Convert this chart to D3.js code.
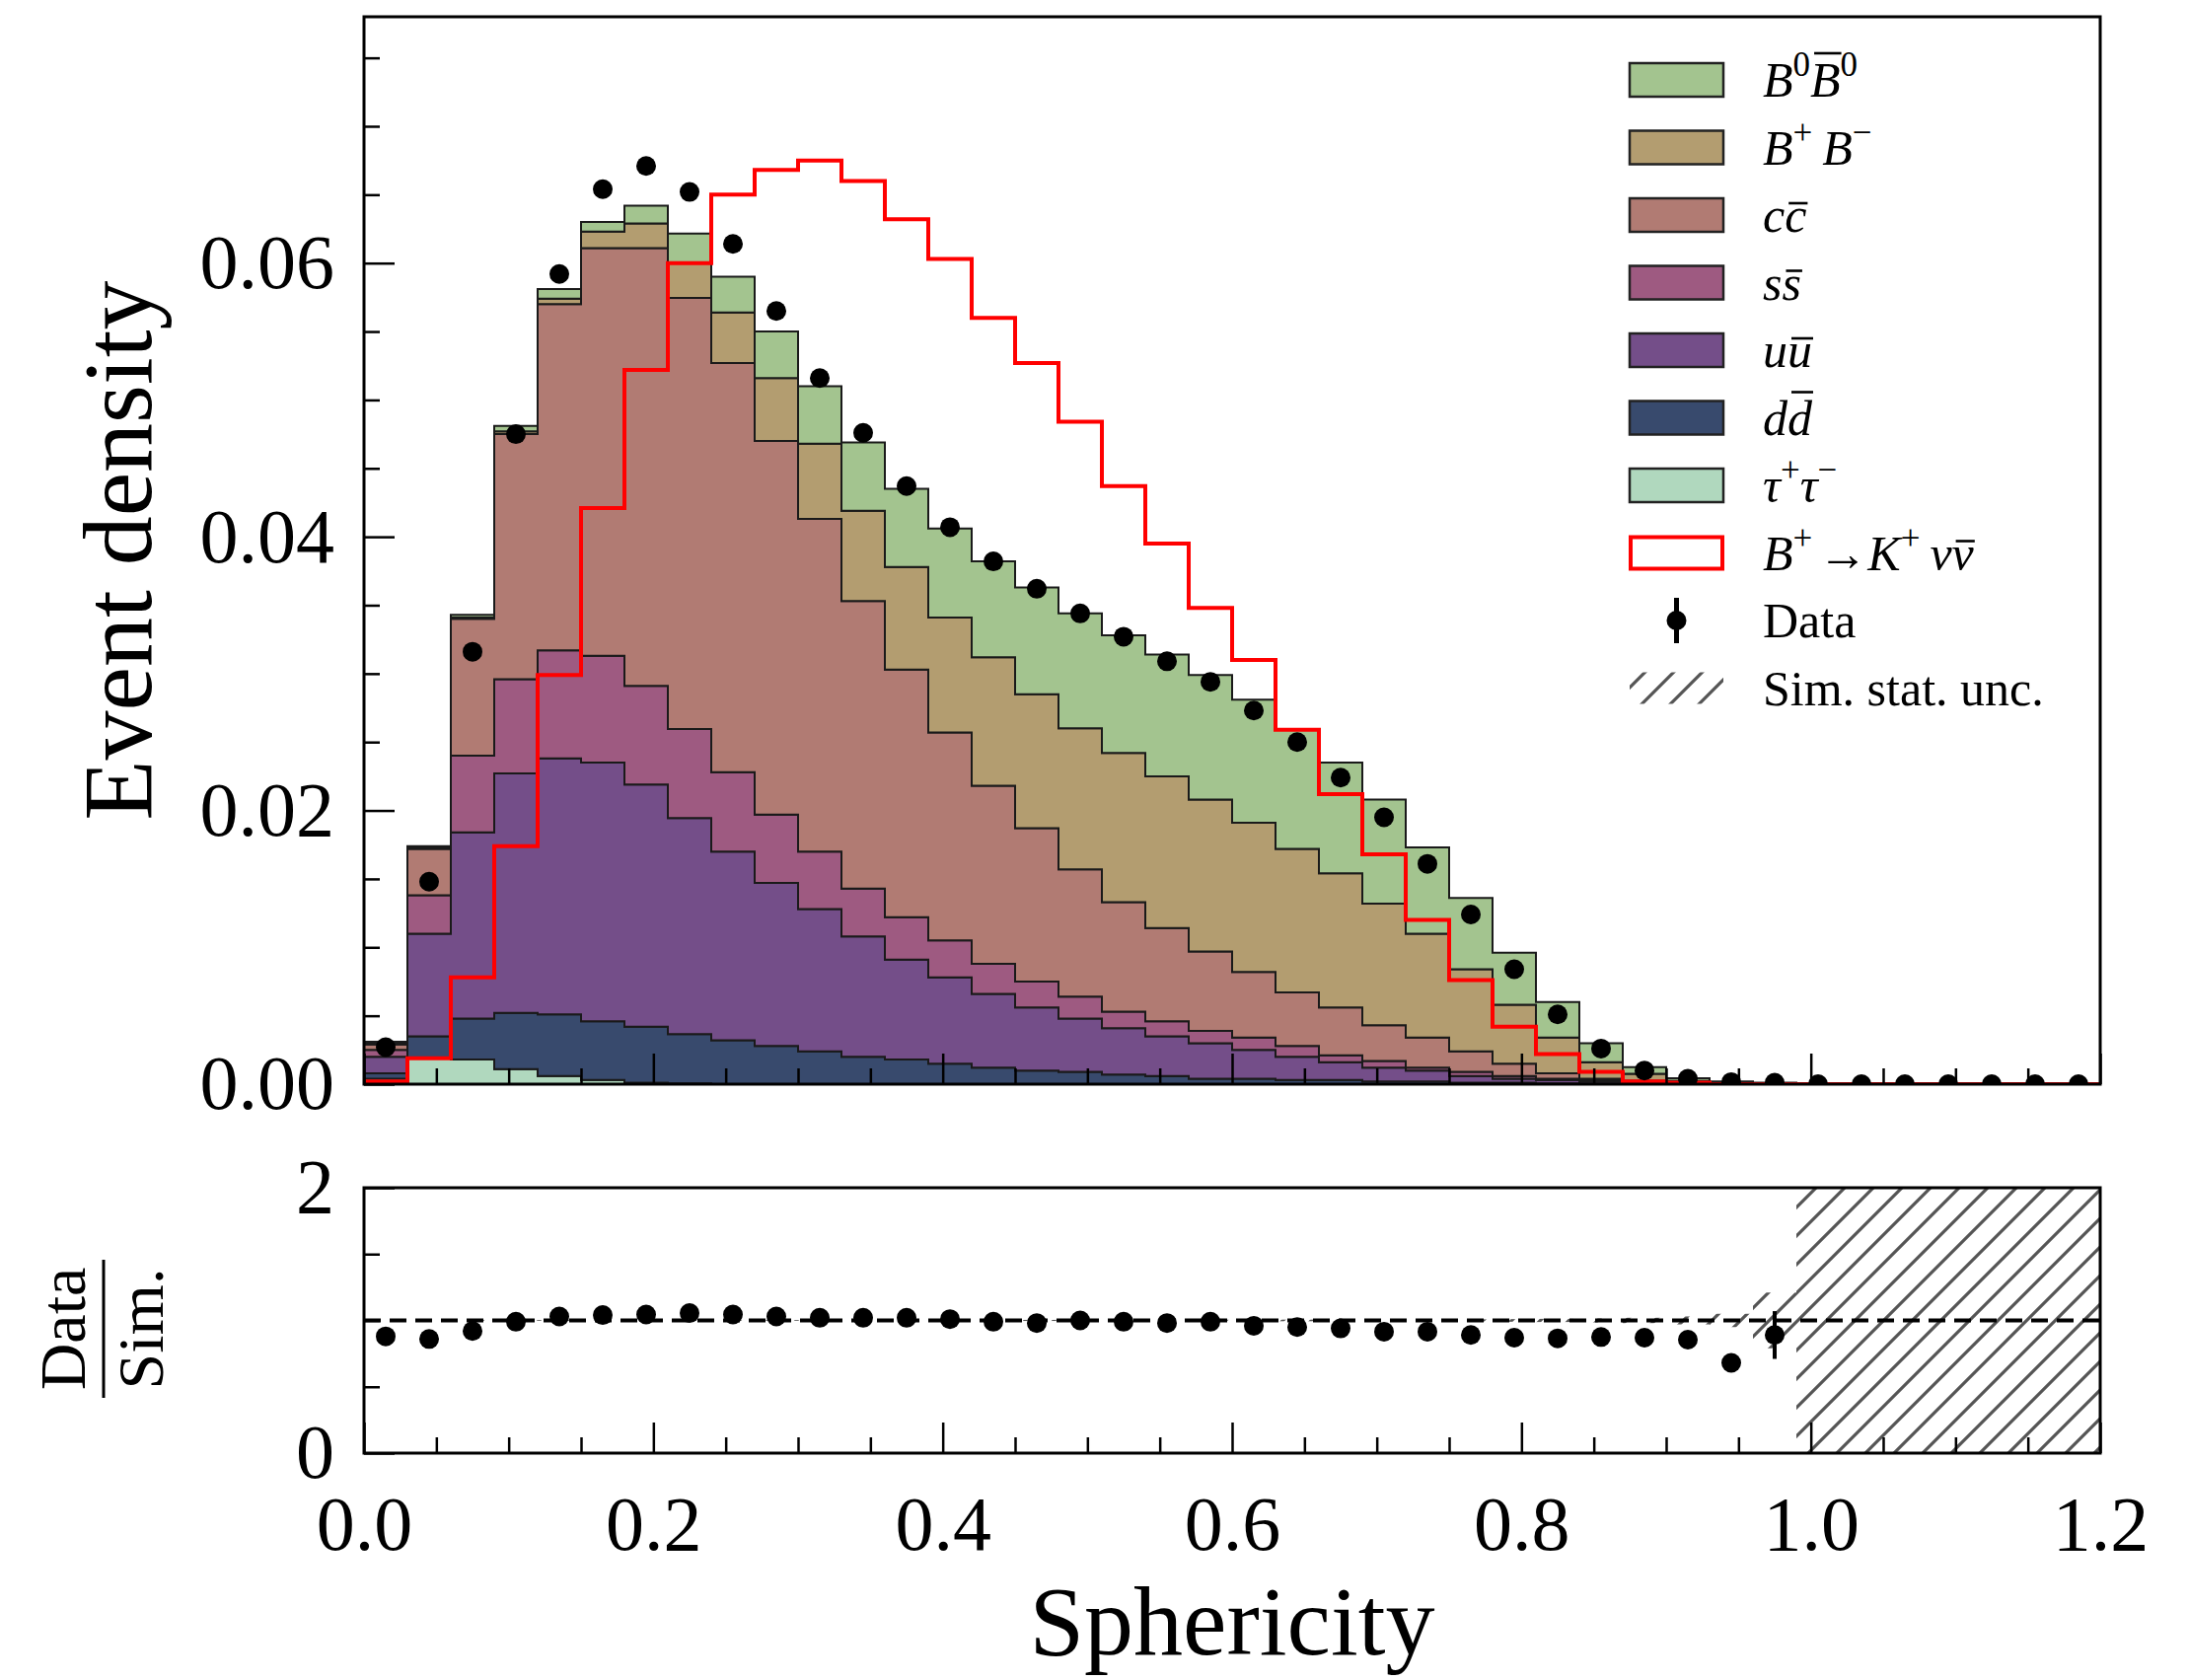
<!DOCTYPE html>
<html>
<head>
<meta charset="utf-8">
<script src="https://cdn.jsdelivr.net/npm/d3@7"></script>
<style>
  body { margin: 0; background: #fff; }
  svg text { font-family: "Liberation Serif", "Times New Roman", serif; fill: #000; }
</style>
</head>
<body>
<div id="wrapper"></div>
<script>
// Binning: 40 bins of width 0.03 from 0 to 1.2
const binWidth = 0.03
const nBins = 40

// Stacked background components (per-bin event density)
const tauTau = [0.0004, 0.0019, 0.0018, 0.0011, 0.0006, 0.0003, 0.0001, 0.00005, 0, 0,
  0, 0, 0, 0, 0, 0, 0, 0, 0, 0,
  0, 0, 0, 0, 0, 0, 0, 0, 0, 0,
  0, 0, 0, 0, 0, 0, 0, 0, 0, 0]
const dDbar = [0.0004, 0.0016, 0.0030, 0.0041, 0.0045, 0.0043, 0.0041, 0.0036, 0.0032, 0.0028,
  0.0024, 0.0020, 0.0018, 0.0015, 0.0012, 0.0010, 0.0009, 0.0007, 0.0006, 0.0004,
  0.0004, 0.0003, 0.0003, 0.0002, 0.0002, 0.0001, 0.0001, 0.00005, 0.00003, 0,
  0, 0, 0, 0, 0, 0, 0, 0, 0, 0]
const uUbar = [0.0012, 0.0075, 0.0136, 0.0175, 0.0187, 0.0189, 0.0177, 0.0158, 0.0138, 0.0119,
  0.0104, 0.0088, 0.0073, 0.0063, 0.0054, 0.0046, 0.0039, 0.0034, 0.0029, 0.0026,
  0.0021, 0.0017, 0.0013, 0.0010, 0.0008, 0.0005, 0.0003, 0.00025, 0.00017, 0.0001,
  0.00005, 0, 0, 0, 0, 0, 0, 0, 0, 0]
const sSbar = [0.0005, 0.0028, 0.0056, 0.0069, 0.0079, 0.0078, 0.0072, 0.0065, 0.0058, 0.0050,
  0.0042, 0.0035, 0.0031, 0.0027, 0.0022, 0.0019, 0.0016, 0.0012, 0.0011, 0.0009,
  0.0009, 0.0008, 0.0005, 0.0005, 0.0002, 0.0003, 0.0002, 0.0001, 0.0001, 0.0001,
  0.00005, 0, 0, 0, 0, 0, 0, 0, 0, 0]
const cCbar = [0.0004, 0.0034, 0.0100, 0.0179, 0.0253, 0.0298, 0.0320, 0.0315, 0.0299, 0.0273,
  0.0243, 0.0210, 0.0181, 0.0152, 0.0130, 0.0112, 0.0093, 0.0080, 0.0068, 0.0058,
  0.0048, 0.0039, 0.0035, 0.0026, 0.0022, 0.0015, 0.0009, 0.0004, 0.0001, 0.00005,
  0.00003, 0, 0, 0, 0, 0, 0, 0, 0, 0]
const bPlusBMinus = [0.0001, 0.0001, 0.0001, 0.0002, 0.0004, 0.0012, 0.0018, 0.0026, 0.0037, 0.0046,
  0.0055, 0.0066, 0.0075, 0.0084, 0.0094, 0.0098, 0.0103, 0.0109, 0.0111, 0.0111,
  0.0109, 0.0105, 0.0098, 0.0089, 0.0076, 0.0060, 0.0043, 0.0026, 0.0012, 0.0005,
  0.0001, 0.0001, 0.00005, 0, 0, 0, 0, 0, 0, 0]
const b0B0bar = [0.0001, 0.0001, 0.0002, 0.0004, 0.0007, 0.0007, 0.0013, 0.0021, 0.0026, 0.0034,
  0.0042, 0.0050, 0.0057, 0.0065, 0.0070, 0.0078, 0.0084, 0.0086, 0.0089, 0.0091,
  0.0090, 0.0087, 0.0081, 0.0076, 0.0063, 0.0052, 0.0038, 0.0026, 0.0014, 0.0005,
  0.0002, 0.0001, 0.00005, 0, 0, 0, 0, 0, 0, 0]

// Signal B+ -> K+ nu nubar (drawn as an outline)
const signal = [0.0002, 0.0019, 0.0078, 0.0174, 0.0299, 0.0421, 0.0522, 0.0600, 0.0650, 0.0668,
  0.0675, 0.0660, 0.0632, 0.0603, 0.0560, 0.0527, 0.0484, 0.0437, 0.0395, 0.0348,
  0.0310, 0.0259, 0.0212, 0.0168, 0.0120, 0.0076, 0.0042, 0.0022, 0.0009, 0.0002,
  0.0001, 0, 0, 0, 0, 0, 0, 0, 0, 0]

// Data points
const dataDensity = [0.0027, 0.0148, 0.0316, 0.0475, 0.0592, 0.0654, 0.0671, 0.0652, 0.0614, 0.0565,
  0.0516, 0.0476, 0.0437, 0.0407, 0.0382, 0.0362, 0.0344, 0.0327, 0.0309, 0.0294,
  0.0273, 0.0250, 0.0224, 0.0195, 0.0161, 0.0124, 0.0084, 0.0051, 0.0026, 0.0010,
  0.0004, 0.00015, 0.0001, 0, 0, 0, 0, 0, 0, 0]

// Ratio panel (bins with simulation only)
const ratio = [0.88, 0.86, 0.92, 0.99, 1.03, 1.04, 1.045, 1.055, 1.045, 1.03,
  1.02, 1.02, 1.02, 1.01, 0.99, 0.98, 1.0, 0.99, 0.98, 0.99,
  0.96, 0.95, 0.94, 0.915, 0.915, 0.89, 0.87, 0.865, 0.875, 0.87,
  0.855, 0.68, 0.89]
const ratioErr = [0.01, 0.01, 0.01, 0.01, 0.01, 0.01, 0.01, 0.01, 0.01, 0.01,
  0.01, 0.01, 0.01, 0.01, 0.01, 0.01, 0.01, 0.01, 0.01, 0.01,
  0.01, 0.01, 0.01, 0.01, 0.01, 0.01, 0.01, 0.015, 0.015, 0.02,
  0.03, 0.06, 0.18]
// relative simulation stat. uncertainty; null = no simulated events
const simRelUnc = [0.01, 0.005, 0.004, 0.003, 0.003, 0.003, 0.003, 0.003, 0.003, 0.003,
  0.003, 0.003, 0.004, 0.004, 0.004, 0.004, 0.004, 0.005, 0.005, 0.005,
  0.005, 0.006, 0.006, 0.007, 0.007, 0.008, 0.01, 0.012, 0.015, 0.02,
  0.03, 0.05, 0.21, null, null, null, null, null, null, null]

const componentKeys = ["tautau", "ddbar", "uubar", "ssbar", "ccbar", "bpbm", "b0b0"]
const componentSeries = [tauTau, dDbar, uUbar, sSbar, cCbar, bPlusBMinus, b0B0bar]
const componentColors = ["#b0d8be", "#384a6d", "#744e89", "#9e5a81", "#b17b73", "#b39d70", "#a3c48f"]

// Legend labels, top to bottom: [text, style]  (\u2009 = thin space)
const legendLabels = [
  [["B", "i"], ["0", "sup"], ["B", "ibar"], ["0", "sup"]],
  [["B", "i"], ["+", "sup"], ["\u2009B", "i"], ["\u2212", "sup"]],
  [["c", "i"], ["c", "ibar"]],
  [["s", "i"], ["s", "ibar"]],
  [["u", "i"], ["u", "ibar"]],
  [["d", "i"], ["d", "ibar"]],
  [["\u03c4", "i"], ["+", "sup"], ["\u03c4", "i"], ["\u2212", "sup"]],
  [["B", "i"], ["+", "sup"], ["\u2192", "n"], ["K", "i"], ["+", "sup"], ["\u2009\u03bd", "i"], ["\u03bd", "ibar"]],
  [["Data", "n"]],
  [["Sim. stat. unc.", "n"]]
]
const legendColors = ["#a3c48f", "#b39d70", "#b17b73", "#9e5a81", "#744e89", "#384a6d", "#b0d8be"]

const xMajor = [0, 0.2, 0.4, 0.6, 0.8, 1.0, 1.2]
const yMajor = [0, 0.02, 0.04, 0.06]
const ratioMajor = [0, 2]

function drawChart() {
    const dimensions = {
        width: 2218,
        height: 1703,
        left: 369,
        right: 2129,
        mainTop: 17,
        mainBottom: 1099,
        ratioTop: 1204,
        ratioBottom: 1473,
    }
    const serif = "Liberation Serif, Times New Roman, serif"

    const svg = d3.select("#wrapper")
        .append("svg")
        .attr("width", dimensions.width)
        .attr("height", dimensions.height)

    const edges = d3.range(nBins + 1).map(i => i * binWidth)
    const centers = d3.range(nBins).map(i => (i + 0.5) * binWidth)

    const xScale = d3.scaleLinear()
        .domain([0, 1.2])
        .range([dimensions.left, dimensions.right])
    const yScale = d3.scaleLinear()
        .domain([0, 0.078])
        .range([dimensions.mainBottom, dimensions.mainTop])
    const rScale = d3.scaleLinear()
        .domain([0, 2])
        .range([dimensions.ratioBottom, dimensions.ratioTop])

    // defs: clip paths and hatch
    const defs = svg.append("defs")
    defs.append("clipPath").attr("id", "mainClip")
        .append("rect")
        .attr("x", dimensions.left).attr("y", dimensions.mainTop)
        .attr("width", dimensions.right - dimensions.left)
        .attr("height", dimensions.mainBottom - dimensions.mainTop)
    defs.append("clipPath").attr("id", "ratioClip")
        .append("rect")
        .attr("x", dimensions.left).attr("y", dimensions.ratioTop)
        .attr("width", dimensions.right - dimensions.left)
        .attr("height", dimensions.ratioBottom - dimensions.ratioTop)
    const hatch = defs.append("pattern")
        .attr("id", "hatch")
        .attr("patternUnits", "userSpaceOnUse")
        .attr("width", 29).attr("height", 29)
    hatch.append("path")
        .attr("d", "M-4,4 L4,-4 M0,29 L29,0 M25,33 L33,25")
        .attr("stroke", "#555")
        .attr("stroke-width", 3.2)

    // ---- main panel: stacked histogram ----
    const table = d3.range(nBins).map(i => {
        const row = {}
        componentKeys.forEach((k, j) => row[k] = componentSeries[j][i])
        return row
    })
    const stacked = d3.stack().keys(componentKeys)(table)

    const mainG = svg.append("g").attr("clip-path", "url(#mainClip)")

    const areaGen = d3.area()
        .curve(d3.curveStepAfter)
        .x((d, i) => xScale(edges[i]))
        .y0(d => yScale(d[0]))
        .y1(d => yScale(d[1]))

    stacked.forEach((layer, j) => {
        const pts = layer.map(d => [d[0], d[1]])
        pts.push(pts[pts.length - 1])
        mainG.append("path")
            .attr("d", areaGen(pts))
            .attr("fill", componentColors[j])
            .attr("stroke", "#1a1a1a")
            .attr("stroke-width", 2)
            .attr("stroke-linejoin", "miter")
    })

    // signal outline
    const sigPts = signal.map((v, i) => [edges[i], v])
    sigPts.push([edges[nBins], signal[nBins - 1]])
    const lineGen = d3.line()
        .curve(d3.curveStepAfter)
        .x(d => xScale(d[0]))
        .y(d => yScale(d[1]))
    mainG.append("path")
        .attr("d", lineGen([[0, 0]].concat(sigPts)))
        .attr("fill", "none")
        .attr("stroke", "#ff0000")
        .attr("stroke-width", 4)

    // data points
    mainG.selectAll("circle.data")
        .data(dataDensity)
        .join("circle")
        .attr("class", "data")
        .attr("cx", (d, i) => xScale(centers[i]))
        .attr("cy", d => yScale(d))
        .attr("r", 10)
        .attr("fill", "#000")

    // ---- ratio panel ----
    const ratioG = svg.append("g").attr("clip-path", "url(#ratioClip)")

    ratioG.selectAll("rect.unc")
        .data(simRelUnc)
        .join("rect")
        .attr("class", "unc")
        .attr("x", (d, i) => xScale(edges[i]))
        .attr("width", (d, i) => xScale(edges[i + 1]) - xScale(edges[i]))
        .attr("y", d => d === null ? rScale(2.2) : rScale(1 + d))
        .attr("height", d => d === null ? rScale(-0.2) - rScale(2.2) : rScale(1 - d) - rScale(1 + d))
        .attr("fill", "url(#hatch)")

    ratioG.append("line")
        .attr("x1", xScale(0)).attr("x2", xScale(1.2))
        .attr("y1", rScale(1)).attr("y2", rScale(1))
        .attr("stroke", "#000")
        .attr("stroke-width", 4)
        .attr("stroke-dasharray", "17,9")

    ratioG.selectAll("line.err")
        .data(ratio)
        .join("line")
        .attr("class", "err")
        .attr("x1", (d, i) => xScale(centers[i]))
        .attr("x2", (d, i) => xScale(centers[i]))
        .attr("y1", (d, i) => rScale(d - ratioErr[i]))
        .attr("y2", (d, i) => rScale(d + ratioErr[i]))
        .attr("stroke", "#000")
        .attr("stroke-width", 4)

    ratioG.selectAll("circle.ratio")
        .data(ratio)
        .join("circle")
        .attr("class", "ratio")
        .attr("cx", (d, i) => xScale(centers[i]))
        .attr("cy", d => rScale(d))
        .attr("r", 10)
        .attr("fill", "#000")

    // ---- axes ----
    const xMinor = d3.range(25).filter(i => i % 4 !== 0).map(i => i * 0.05)
    const yMinor = d3.range(16).filter(i => i % 4 !== 0).map(i => i * 0.005)
    const rMinor = [0.5, 1, 1.5]

    function styleAxis(g) {
        g.select(".domain").remove()
        g.attr("font-family", serif).attr("font-size", 78)
        g.selectAll(".tick line").attr("stroke", "#000").attr("stroke-width", 2.5)
        g.selectAll(".tick text").attr("fill", "#000")
    }

    // main y
    svg.append("g")
        .attr("transform", `translate(${dimensions.left},0)`)
        .call(d3.axisLeft(yScale).tickValues(yMajor).tickFormat(d3.format(".2f"))
            .tickSizeInner(-31).tickSizeOuter(0).tickPadding(30))
        .call(styleAxis)
    svg.append("g")
        .attr("transform", `translate(${dimensions.left},0)`)
        .call(d3.axisLeft(yScale).tickValues(yMinor).tickFormat("")
            .tickSizeInner(-16).tickSizeOuter(0))
        .call(styleAxis)

    // main x (no labels)
    svg.append("g")
        .attr("transform", `translate(0,${dimensions.mainBottom})`)
        .call(d3.axisBottom(xScale).tickValues(xMajor).tickFormat("")
            .tickSizeInner(-31).tickSizeOuter(0))
        .call(styleAxis)
    svg.append("g")
        .attr("transform", `translate(0,${dimensions.mainBottom})`)
        .call(d3.axisBottom(xScale).tickValues(xMinor).tickFormat("")
            .tickSizeInner(-16).tickSizeOuter(0))
        .call(styleAxis)

    // ratio y
    svg.append("g")
        .attr("transform", `translate(${dimensions.left},0)`)
        .call(d3.axisLeft(rScale).tickValues(ratioMajor).tickFormat(d3.format("d"))
            .tickSizeInner(-31).tickSizeOuter(0).tickPadding(30))
        .call(styleAxis)
    svg.append("g")
        .attr("transform", `translate(${dimensions.left},0)`)
        .call(d3.axisLeft(rScale).tickValues(rMinor).tickFormat("")
            .tickSizeInner(-16).tickSizeOuter(0))
        .call(styleAxis)

    // ratio x
    svg.append("g")
        .attr("transform", `translate(0,${dimensions.ratioBottom})`)
        .call(d3.axisBottom(xScale).tickValues(xMajor).tickFormat(d3.format(".1f"))
            .tickSizeInner(-31).tickSizeOuter(0).tickPadding(43))
        .call(styleAxis)
    svg.append("g")
        .attr("transform", `translate(0,${dimensions.ratioBottom})`)
        .call(d3.axisBottom(xScale).tickValues(xMinor).tickFormat("")
            .tickSizeInner(-16).tickSizeOuter(0))
        .call(styleAxis)

    // frames
    ;[[dimensions.mainTop, dimensions.mainBottom], [dimensions.ratioTop, dimensions.ratioBottom]]
        .forEach(([t, b]) => {
            svg.append("rect")
                .attr("x", dimensions.left).attr("y", t)
                .attr("width", dimensions.right - dimensions.left)
                .attr("height", b - t)
                .attr("fill", "none")
                .attr("stroke", "#000")
                .attr("stroke-width", 3)
        })

    // axis labels
    svg.append("text")
        .attr("transform", `translate(153,${(dimensions.mainTop + dimensions.mainBottom) / 2}) rotate(-90)`)
        .attr("text-anchor", "middle")
        .attr("font-size", 100)
        .text("Event density")

    svg.append("text")
        .attr("x", (dimensions.left + dimensions.right) / 2)
        .attr("y", 1677)
        .attr("text-anchor", "middle")
        .attr("font-size", 100)
        .text("Sphericity")

    const frac = svg.append("g")
        .attr("transform", `translate(105,1347) rotate(-90)`)
    frac.append("text")
        .attr("x", 0).attr("y", -19)
        .attr("text-anchor", "middle")
        .attr("font-size", 66)
        .text("Data")
    frac.append("line")
        .attr("x1", -70).attr("x2", 70)
        .attr("y1", 0).attr("y2", 0)
        .attr("stroke", "#000")
        .attr("stroke-width", 3)
    frac.append("text")
        .attr("x", 0).attr("y", 60)
        .attr("text-anchor", "middle")
        .attr("font-size", 66)
        .text("Sim.")

    // ---- legend ----
    const legend = svg.append("g")
    const rowY = i => 81 + i * 68.5
    const patchX = 1652, patchW = 95, patchH = 34
    const textX = 1787, fs = 50

    legendColors.forEach((c, i) => {
        legend.append("rect")
            .attr("x", patchX).attr("y", rowY(i) - patchH / 2)
            .attr("width", patchW).attr("height", patchH)
            .attr("fill", c)
            .attr("stroke", "#222")
            .attr("stroke-width", 2.5)
    })
    // signal
    legend.append("rect")
        .attr("x", patchX + 1).attr("y", rowY(7) - patchH / 2 + 1)
        .attr("width", patchW - 2).attr("height", patchH - 2)
        .attr("fill", "#fff")
        .attr("stroke", "#ff0000")
        .attr("stroke-width", 4)
    // data marker
    legend.append("line")
        .attr("x1", patchX + patchW / 2).attr("x2", patchX + patchW / 2)
        .attr("y1", rowY(8) - 23).attr("y2", rowY(8) + 23)
        .attr("stroke", "#000").attr("stroke-width", 5)
    legend.append("circle")
        .attr("cx", patchX + patchW / 2).attr("cy", rowY(8))
        .attr("r", 10).attr("fill", "#000")
    // hatch
    legend.append("rect")
        .attr("x", patchX).attr("y", rowY(9) - 16)
        .attr("width", patchW).attr("height", 32)
        .attr("fill", "url(#hatch)")

    // overline heights above baseline
    const barHeight = { "B": 44, "d": 43, "c": 29, "s": 29, "u": 29, "\u03bd": 29 }

    legendLabels.forEach((segs, i) => {
        const base = rowY(i) + 17
        const t = legend.append("text")
            .attr("x", textX).attr("y", base)
            .attr("font-size", fs)
        let raised = false
        let charIndex = 0
        const bars = []
        segs.forEach(([str, style]) => {
            const ts = t.append("tspan").text(str)
            if (style === "sup") {
                ts.attr("font-size", fs * 0.7).attr("dy", raised ? 0 : -21)
                raised = true
            } else {
                if (raised) ts.attr("dy", 21)
                raised = false
                if (style === "i" || style === "ibar") ts.attr("font-style", "italic")
                if (str === "\u2192") ts.attr("dx", 6)
            }
            if (style === "ibar") bars.push({ index: charIndex, ch: str })
            charIndex += str.length
        })
        const node = t.node()
        bars.forEach(b => {
            const ext = node.getExtentOfChar(b.index)
            const h = barHeight[b.ch] || 40
            legend.append("line")
                .attr("x1", ext.x + 4).attr("x2", ext.x + ext.width + 1)
                .attr("y1", base - h).attr("y2", base - h)
                .attr("stroke", "#000").attr("stroke-width", 2.6)
        })
    })
}

drawChart()
</script>
</body>
</html>
